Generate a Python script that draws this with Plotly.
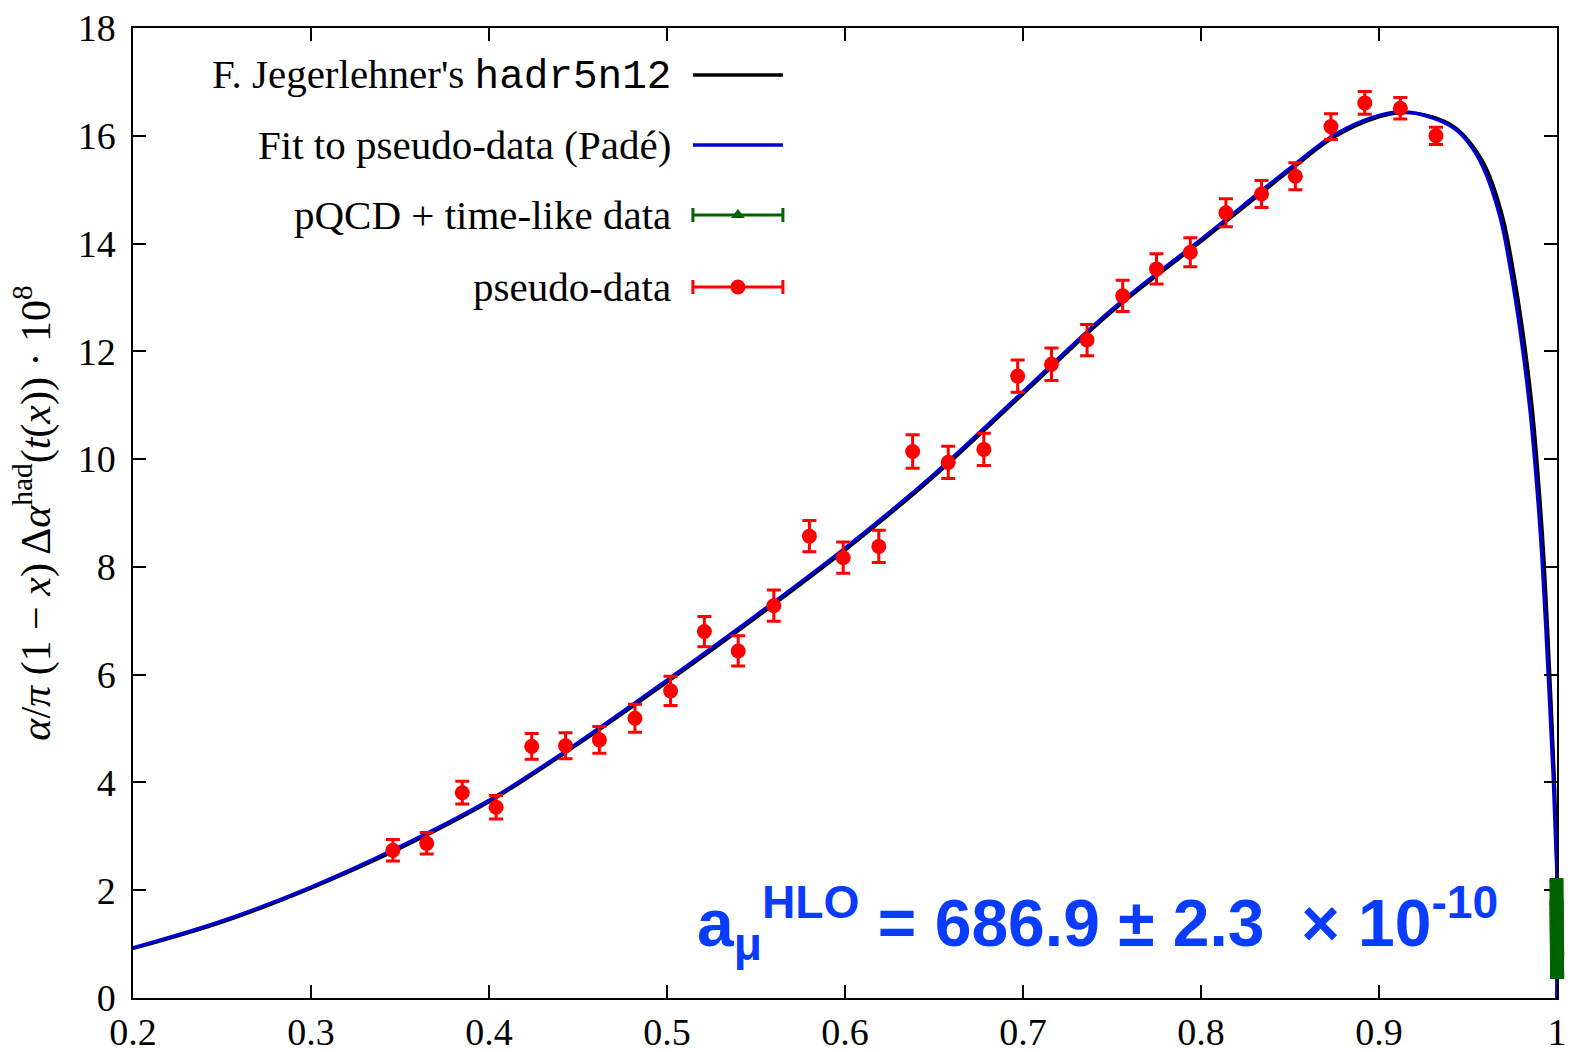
import plotly.graph_objects as go

# ---------------- data ----------------
# Fit to pseudo-data (Padé) curve
pade_x = [0.20, 0.25, 0.30, 0.35, 0.40, 0.45, 0.50, 0.55, 0.60, 0.65, 0.70, 0.75,
          0.80, 0.85, 0.875, 0.90, 0.915, 0.93, 0.942, 0.95, 0.9584, 0.968, 0.9736,
          0.9792, 0.9848, 0.9888, 0.9916, 0.9949, 0.9978, 0.9994, 0.99995, 1.0]
pade_y = [0.93, 1.43, 2.06, 2.81, 3.67, 4.74, 5.90, 7.10, 8.35, 9.72, 11.25, 12.78,
          14.08, 15.40, 16.02, 16.38, 16.44, 16.33, 16.14, 15.88, 15.42, 14.49, 13.56,
          12.39, 10.91, 9.43, 8.13, 6.09, 4.14, 2.75, 2.25, 0.0]

# F. Jegerlehner's hadr5n12 curve
jeg_x = [0.20, 0.25, 0.30, 0.35, 0.40, 0.45, 0.50, 0.55, 0.60, 0.65, 0.70, 0.75,
         0.80, 0.85, 0.875, 0.90, 0.915, 0.93, 0.942, 0.95, 0.9599, 0.9695, 0.9751,
         0.9807, 0.9862, 0.9900, 0.9927, 0.9958, 0.9984, 0.9997, 0.99998, 1.0]
jeg_y = [0.92, 1.41, 2.04, 2.78, 3.64, 4.71, 5.86, 7.06, 8.31, 9.68, 11.21, 12.74,
         14.04, 15.36, 15.98, 16.35, 16.43, 16.35, 16.17, 15.92, 15.42, 14.49, 13.56,
         12.39, 10.91, 9.43, 8.13, 6.09, 4.14, 2.75, 2.25, 0.0]

# pseudo-data points
pd_x = [0.346, 0.365, 0.385, 0.404, 0.424, 0.443, 0.462, 0.482, 0.502, 0.521, 0.540,
        0.560, 0.580, 0.599, 0.619, 0.638, 0.658, 0.678, 0.697, 0.716, 0.736, 0.756,
        0.775, 0.794, 0.814, 0.834, 0.853, 0.873, 0.892, 0.912, 0.932]
pd_y = [2.74, 2.87, 3.81, 3.54, 4.67, 4.68, 4.79, 5.19, 5.70, 6.80, 6.44, 7.28,
        8.57, 8.17, 8.38, 10.14, 9.94, 10.18, 11.54, 11.76, 12.21, 13.03, 13.53,
        13.84, 14.57, 14.92, 15.25, 16.17, 16.61, 16.51, 16.00]
pd_err = [0.20, 0.20, 0.21, 0.22, 0.24, 0.24, 0.25, 0.26, 0.27, 0.28, 0.28, 0.29,
          0.29, 0.29, 0.30, 0.31, 0.30, 0.30, 0.30, 0.30, 0.29, 0.29, 0.28, 0.27,
          0.26, 0.25, 0.25, 0.24, 0.21, 0.20, 0.16]

# pQCD + time-like data (packed just below x = 1)
tl_x = [0.99970, 0.99971, 0.99972, 0.99973, 0.99974, 0.99975, 0.99976, 0.99977,
        0.99978, 0.99979, 0.99980, 0.99981, 0.99982, 0.99983, 0.99984, 0.99985,
        0.99986, 0.99987, 0.99988, 0.99989, 0.99990, 0.99991, 0.99992, 0.99993,
        0.99994, 0.99995, 0.99996, 0.99997, 0.99998, 0.99999, 1.00000, 1.00001,
        1.00002, 1.00003, 1.00004, 1.00005, 1.00006, 1.00007, 1.00008, 1.00009]
tl_y = [2.00, 1.96, 1.92, 1.88, 1.84, 1.80, 1.76, 1.72, 1.68, 1.64, 1.60, 1.56,
        1.52, 1.48, 1.44, 1.40, 1.36, 1.32, 1.28, 1.24, 1.20, 1.16, 1.12, 1.08,
        1.04, 1.00, 0.96, 0.92, 0.88, 0.84, 0.80, 0.76, 0.72, 0.70, 0.68, 0.66,
        0.64, 0.62, 0.60, 0.58]
tl_err = [0.20] * len(tl_y)

x_ticks = [0.2, 0.3, 0.4, 0.5, 0.6, 0.7, 0.8, 0.9, 1.0]
x_ticklabels = ["0.2", "0.3", "0.4", "0.5", "0.6", "0.7", "0.8", "0.9", "1"]
y_ticks = [0, 2, 4, 6, 8, 10, 12, 14, 16, 18]

legend_labels = [
    "F. Jegerlehner's <span style=\"font-family:'Liberation Mono'\">hadr5n12</span>",
    "Fit to pseudo-data (Padé)",
    "pQCD + time-like data",
    "pseudo-data",
]

# ---------------- styles ----------------
BLACK = "#000000"
BLUE = "#0000d0"
GREEN = "#006400"
RED = "#ff0000"
SERIF = "Liberation Serif"

W, H = 1571, 1052
ML, MR, MT, MB = 133, 0, 28, 54
PLOT_RIGHT_PX = 1557                       # right frame of the main axes
span = W - ML - MR
main_dom = (PLOT_RIGHT_PX - ML) / span     # main axes domain end
px_per_unit = (PLOT_RIGHT_PX - ML) / 0.8
x3_dom0 = 0.97
x3_lo = 1.0 - (PLOT_RIGHT_PX - (ML + x3_dom0 * span)) / px_per_unit
x3_hi = 1.0 + (W - MR - PLOT_RIGHT_PX) / px_per_unit

fig = go.Figure()

fig.add_trace(go.Scatter(x=jeg_x, y=jeg_y, mode="lines", line=dict(color=BLACK, width=3.4),
                         line_shape="spline", showlegend=False))
fig.add_trace(go.Scatter(x=pade_x, y=pade_y, mode="lines", line=dict(color=BLUE, width=3.4),
                         line_shape="spline", showlegend=False))
# time-like data on an aligned helper axis whose clip area reaches past x = 1
fig.add_trace(go.Scatter(x=tl_x, y=tl_y, mode="markers", xaxis="x3", yaxis="y3",
                         marker=dict(symbol="triangle-up", size=10, color=GREEN),
                         error_y=dict(type="data", array=tl_err, color=GREEN, thickness=3, width=7),
                         showlegend=False, cliponaxis=False))
fig.add_trace(go.Scatter(x=pd_x, y=pd_y, mode="markers",
                         marker=dict(symbol="circle", size=15, color=RED),
                         error_y=dict(type="data", array=pd_err, color=RED, thickness=3, width=7),
                         showlegend=False))

# ---------------- legend (gnuplot style: text then sample) ----------------
leg_rows = [0.9515, 0.8794, 0.8072, 0.7330]
leg_colors = [BLACK, BLUE, GREEN, RED]
sample_l, sample_r = 0.3932, 0.4564
for i, (lab, yy, col) in enumerate(zip(legend_labels, leg_rows, leg_colors)):
    fig.add_annotation(x=0.3790, y=yy, xref="x2", yref="y2", text=lab, showarrow=False,
                       xanchor="right", yanchor="middle",
                       font=dict(family=SERIF, size=41, color="black"))
    if i < 2:
        fig.add_trace(go.Scatter(x=[sample_l, sample_r], y=[yy, yy], mode="lines",
                                 line=dict(color=col, width=3.4), xaxis="x2", yaxis="y2",
                                 showlegend=False))
    else:
        sym = "triangle-up" if i == 2 else "circle"
        size = 12 if i == 2 else 15
        fig.add_trace(go.Scatter(x=[(sample_l + sample_r) / 2], y=[yy], mode="markers",
                                 marker=dict(symbol=sym, size=size, color=col),
                                 error_x=dict(type="constant", value=(sample_r - sample_l) / 2,
                                              color=col, thickness=3, width=7),
                                 xaxis="x2", yaxis="y2", showlegend=False))

# ---------------- result annotation ----------------
fig.add_annotation(x=0.9680, y=1.40, xref="x", yref="y",
                   text="<b>a<sub>μ</sub><sup>HLO</sup> = 686.9 ± 2.3  × 10<sup>-10</sup></b>",
                   showarrow=False, xanchor="right", yanchor="middle",
                   font=dict(family="Liberation Sans", size=66, color="#0a3cff"))

axis_common = dict(showline=True, linecolor="black", linewidth=1.5, mirror="ticks",
                   ticks="inside", ticklen=13, tickwidth=1.5, tickcolor="black",
                   showgrid=False, zeroline=False, automargin=False,
                   tickfont=dict(family=SERIF, size=38, color="black"))

fig.update_layout(
    width=W, height=H,
    margin=dict(l=ML, r=MR, t=MT, b=MB, autoexpand=False),
    paper_bgcolor="white", plot_bgcolor="rgba(0,0,0,0)",
    showlegend=False,
    xaxis=dict(range=[0.2, 1.0], domain=[0, main_dom], tickvals=x_ticks, ticktext=x_ticklabels,
               ticklabelstandoff=0, **axis_common),
    yaxis=dict(range=[0, 18], tickvals=y_ticks, ticklabelstandoff=8, **axis_common,
               title=dict(text="<i>α</i>/<i>π</i> (1 − <i>x</i>) Δ<i>α</i><sup>had</sup>(<i>t</i>(<i>x</i>)) · 10<sup>8</sup>",
                          font=dict(family=SERIF, size=42, color="black"), standoff=14)),
    xaxis2=dict(range=[0, 1], overlaying="x", visible=False),
    yaxis2=dict(range=[0, 1], overlaying="y", visible=False),
    xaxis3=dict(range=[x3_lo, x3_hi], domain=[x3_dom0, 1.0], anchor="y3", visible=False),
    yaxis3=dict(range=[0, 18], domain=[0, 1], anchor="x3", visible=False),
)

fig.write_html("out.html")
